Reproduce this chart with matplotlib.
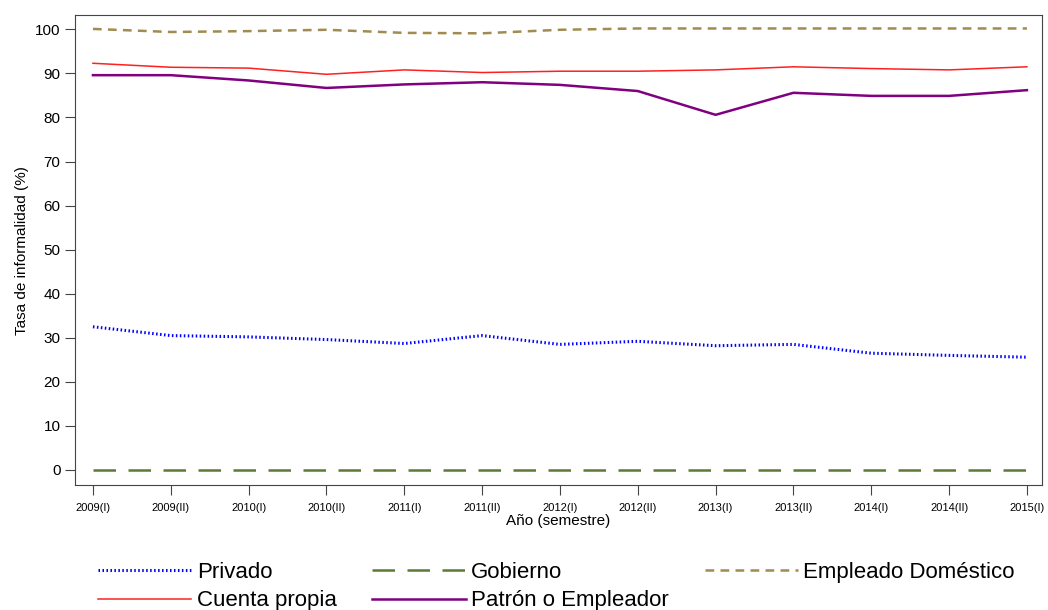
import matplotlib
matplotlib.use("Agg")
import matplotlib.pyplot as plt

plt.rcParams['font.family'] = ['Liberation Sans', 'DejaVu Sans']

semestres = ['2009(I)', '2009(II)', '2010(I)', '2010(II)', '2011(I)', '2011(II)', '2012(I)',
             '2012(II)', '2013(I)', '2013(II)', '2014(I)', '2014(II)', '2015(I)']

privado = [32.5, 30.5, 30.2, 29.6, 28.7, 30.5, 28.5, 29.2, 28.2, 28.5, 26.5, 26.0, 25.6]
gobierno = [0, 0, 0, 0, 0, 0, 0, 0, 0, 0, 0, 0, 0]
domestico = [100.1, 99.4, 99.6, 99.9, 99.2, 99.1, 99.9, 100.2, 100.2, 100.2, 100.2, 100.2, 100.2]
cuenta_propia = [92.3, 91.4, 91.2, 89.8, 90.8, 90.2, 90.5, 90.5, 90.8, 91.5, 91.1, 90.8, 91.5]
patron = [89.6, 89.6, 88.4, 86.7, 87.5, 88.0, 87.4, 86.0, 80.6, 85.6, 84.9, 84.9, 86.2]

x = list(range(len(semestres)))

fig = plt.figure(figsize=(10.48, 6.10), dpi=100)
ax = fig.add_axes([0.0716, 0.205, 0.9224, 0.770])

l1, = ax.plot(x, privado, color='#0000ff', lw=2.2, ls=(0, (0.5, 0.8)), label='Privado')
l2, = ax.plot(x, gobierno, color='#5b7b34', lw=1.8, ls=(0, (9, 5)), label='Gobierno')
l3, = ax.plot(x, domestico, color='#a08c50', lw=1.8, ls=(0, (3.5, 2.5)), label='Empleado Doméstico')
l4, = ax.plot(x, cuenta_propia, color='#ff2020', lw=1.1, label='Cuenta propia')
l5, = ax.plot(x, patron, color='#800080', lw=1.8, label='Patrón o Empleador')

ax.set_xlim(-0.23, 12.19)
ax.set_ylim(-3.4, 103.2)
ax.set_yticks(range(0, 101, 10))
ax.set_xticks(x)
ax.set_xticklabels(semestres, fontsize=8)
ax.tick_params(axis='y', labelsize=11, length=7, color='#444444')
ax.tick_params(axis='x', length=7, pad=6, color='#444444')
for s in ax.spines.values():
    s.set_color('#444444')
ax.set_ylabel('Tasa de informalidad (%)', fontsize=11)
ax.set_xlabel('Año (semestre)', fontsize=11, labelpad=1)

fig.legend([l1, l4, l2, l5, l3],
           ['Privado', 'Cuenta propia', 'Gobierno', 'Patrón o Empleador', 'Empleado Doméstico'],
           ncol=3, loc='upper center', bbox_to_anchor=(0.531, 0.112), frameon=False,
           fontsize=16, handlelength=4.2, handletextpad=0.25, columnspacing=1.6,
           labelspacing=0.35)

fig.savefig('out.png', dpi=100)
